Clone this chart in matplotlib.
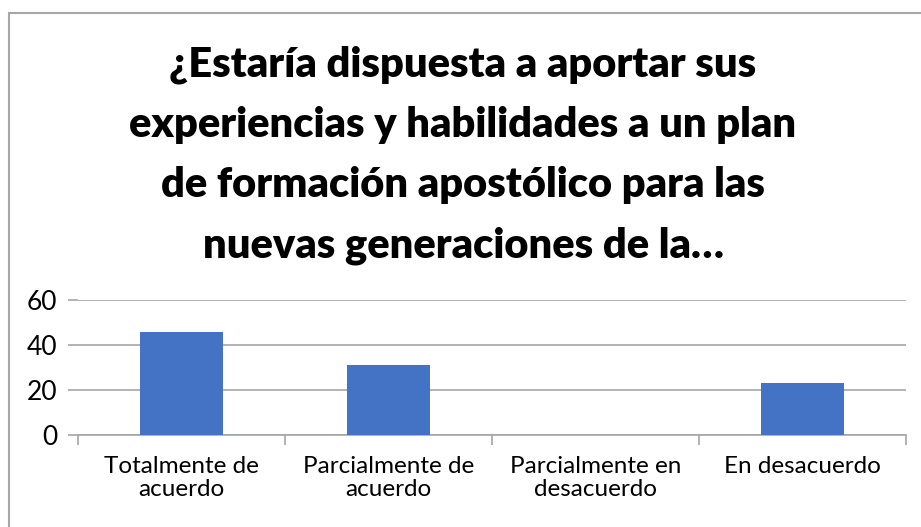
import matplotlib.pyplot as plt
from matplotlib.patches import Rectangle

# DATA
categories = ["Totalmente de\nacuerdo", "Parcialmente de\nacuerdo",
              "Parcialmente en\ndesacuerdo", "En desacuerdo"]
values = [46, 31, 0, 23]
y_ticks = [0, 20, 40, 60]
title_lines = ["¿Estaría dispuesta a aportar sus",
               "experiencias y habilidades a un plan",
               "de formación apostólico para las",
               "nuevas generaciones de la…"]

FONT = "Lato"
W, H = 921, 527

fig = plt.figure(figsize=(W / 100, H / 100), dpi=100)

# chart border (only top/left edges visible in the crop)
fig.patches.append(Rectangle((8.5 / W, -0.1), 1.2, 1.1 - 12.5 / H,
                             transform=fig.transFigure, fill=False,
                             edgecolor="#a6a6a6", linewidth=1.5))

# title, one line at a time
for i, line in enumerate(title_lines):
    fig.text(463 / W, 1 - (76 + 60.5 * i) / H, line, ha="center", va="baseline",
             fontsize=30, fontweight="heavy", family=FONT, color="black")

ax = fig.add_axes([78 / W, 1 - 435 / H, (906 - 78) / W, 135 / H])
x = range(len(categories))
ax.bar(x, values, width=0.4, color="#4472c4", zorder=3)

ax.set_xlim(-0.5, len(categories) - 0.5)
ax.set_ylim(0, 60)
ax.set_yticks(y_ticks)
ax.yaxis.grid(True, color="#a6a6a6", linewidth=1.2)
ax.set_axisbelow(True)

# category ticks sit between the bars
ax.set_xticks([k - 0.5 for k in range(len(categories) + 1)], minor=False)
ax.set_xticklabels([])
ax.set_xticks(list(x), minor=True)
ax.set_xticklabels(categories, minor=True, family=FONT, fontsize=17.5,
                   linespacing=1.15)
ax.tick_params(axis="x", which="minor", length=0, pad=15)
ax.tick_params(axis="x", which="major", length=7, color="#a6a6a6", width=1.2)
ax.tick_params(axis="y", length=7, color="#a6a6a6", width=1.2, labelsize=19, pad=8)
for lab in ax.get_yticklabels():
    lab.set_family(FONT)

for side in ["top", "right", "left"]:
    ax.spines[side].set_visible(False)
ax.spines["bottom"].set_color("#a6a6a6")
ax.spines["bottom"].set_linewidth(1.2)

fig.savefig("out.png", dpi=100)
